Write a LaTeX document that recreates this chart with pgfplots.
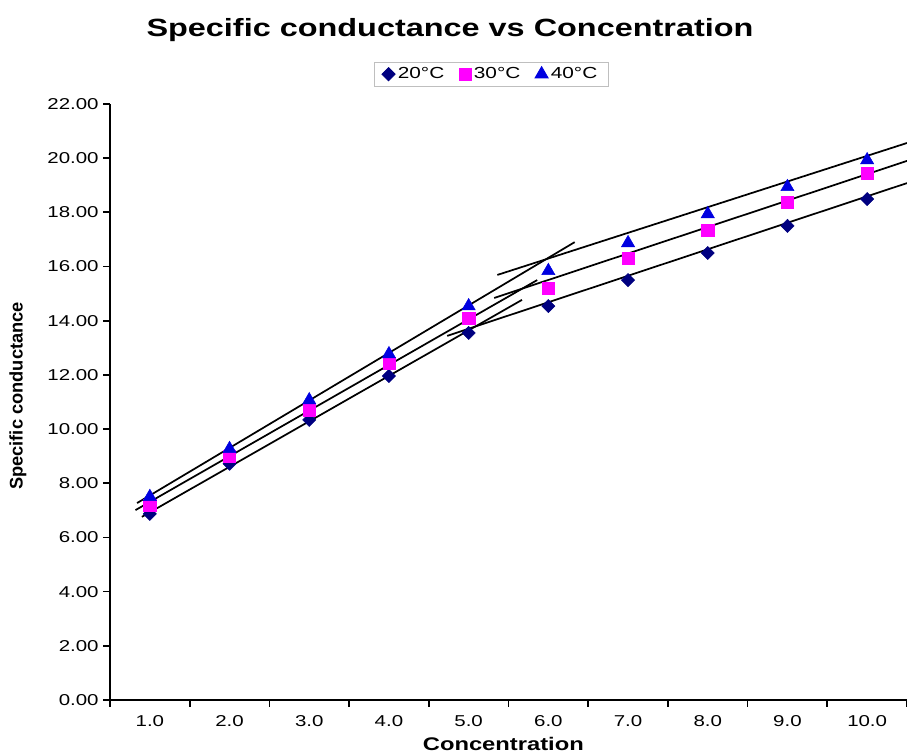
\documentclass[border=0pt]{standalone}
\usepackage{pgfplots}
\pgfplotsset{compat=1.18}
\usepackage{fontspec}
\setmainfont{Liberation Sans}[FakeStretch=1.3]
\newfontfamily\plainsans{Liberation Sans}
\definecolor{navy}{HTML}{000080}
\definecolor{mag}{HTML}{FF00FF}
\definecolor{tri}{HTML}{0000E0}

\begin{document}
\begin{tikzpicture}
\path[use as bounding box] (-82.5pt,-41.25pt) rectangle (597.75pt,525pt);
\begin{axis}[
    at={(0,0)}, anchor=south west,
    scale only axis,
    width=597.75pt, height=447pt,
    xmin=0.5, xmax=10.5,
    ymin=0, ymax=22,
    axis x line*=bottom, axis y line*=left,
    axis line style={line width=1.6pt, -},
    tick align=outside,
    xtick={1,...,10},
    xticklabels={1.0,2.0,3.0,4.0,5.0,6.0,7.0,8.0,9.0,10.0},
    major x tick style={draw=none},
    minor xtick={0.5,1.5,...,10.5},
    minor tick length=5pt,
    minor x tick style={line width=1.3pt, black},
    ytick={0,2,...,22},
    major y tick style={line width=1.3pt, black},
    major tick length=5pt,
    yticklabel style={/pgf/number format/fixed, /pgf/number format/fixed zerofill, /pgf/number format/precision=2},
    /pgf/number format/assume math mode=true,
    tick label style={font=\fontsize{11.8}{14}\selectfont},
    xticklabel style={yshift=-3pt},
    legend style={at={(0.478,1.05)}, anchor=center, draw=gray!50, line width=0.6pt,
        legend columns=3, font=\fontsize{12}{14}\selectfont,
        /tikz/every even column/.append style={column sep=9pt},
        inner xsep=6pt, inner ysep=2pt},
    legend cell align=left,
]
% measured points
\addplot[only marks, mark=square*, mark size=3.5pt, mark options={rotate=45, fill=navy, draw=navy}]
  coordinates {(1,6.87) (2,8.72) (3,10.34) (4,11.96) (5,13.55) (6,14.54) (7,15.5) (8,16.5) (9,17.5) (10,18.49)};
\addplot[only marks, mark=square*, mark size=4.6pt, mark options={fill=mag, draw=mag}]
  coordinates {(1,7.2) (2,9.0) (3,10.7) (4,12.44) (5,14.1) (6,15.2) (7,16.3) (8,17.35) (9,18.38) (10,19.45)};
\addplot[only marks, mark=triangle*, mark size=5.7pt, mark options={fill=tri, draw=tri}]
  coordinates {(1,7.5) (2,9.27) (3,11.07) (4,12.77) (5,14.54) (6,15.84) (7,16.87) (8,17.94) (9,18.94) (10,19.93)};
\legend{20°C, 30°C, 40°C}
% trend lines
\addplot[black, line width=1.3pt, forget plot] coordinates {(0.90,6.76) (5.67,14.77)};
\addplot[black, line width=1.3pt, forget plot] coordinates {(0.82,7.01) (5.86,15.5)};
\addplot[black, line width=1.3pt, forget plot] coordinates {(0.84,7.27) (6.33,16.9)};
\addplot[black, line width=1.3pt, forget plot] coordinates {(4.73,13.44) (10.5,19.08)};
\addplot[black, line width=1.3pt, forget plot] coordinates {(5.32,14.84) (10.5,19.9)};
\addplot[black, line width=1.3pt, forget plot] coordinates {(5.36,15.69) (10.5,20.56)};
\end{axis}
\node[font=\fontsize{18.7}{22}\selectfont\bfseries] at (255pt,502.5pt) {Specific conductance vs Concentration};
\node[font=\fontsize{13.7}{16}\selectfont\bfseries] at (295pt,-33pt) {Concentration};
\node[font=\plainsans\fontsize{13.7}{16}\selectfont\bfseries, rotate=90] at (-69pt,228pt) {Specific conductance};
\end{tikzpicture}
\end{document}
